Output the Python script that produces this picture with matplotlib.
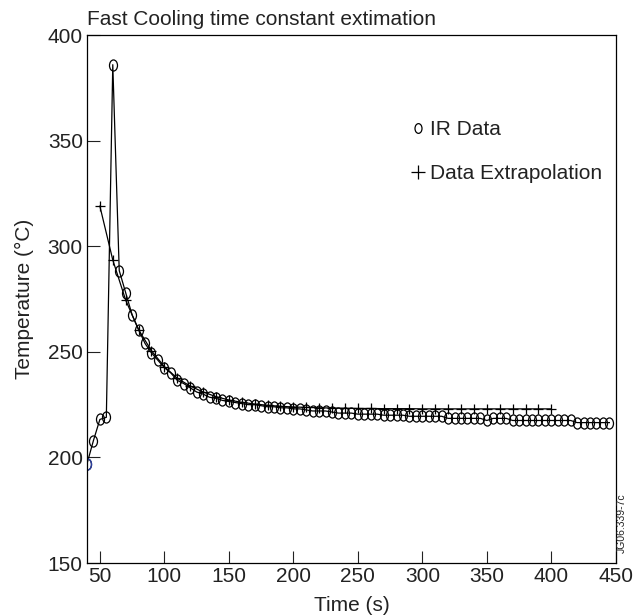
import matplotlib.pyplot as plt
import numpy as np
from matplotlib.path import Path
from matplotlib.transforms import Affine2D
from matplotlib.lines import Line2D

plt.rcParams['font.family'] = ['Liberation Sans', 'DejaVu Sans']

# IR data, one reading every 5 s
ir_time = list(range(40, 450, 5))
ir_temp = [197, 208, 218, 219, 386, 288.5, 278, 267.5, 260.5, 254,
           249.5, 246, 242.5, 240, 236.5, 235, 233, 231, 230, 228.5,
           228, 227, 226.5, 226, 225.5, 225, 225, 224.5, 224, 224,
           223.5, 223.5, 223, 223, 222.5, 222, 222, 222, 221.5, 221,
           221, 221, 220.5, 220.5, 220.5, 220.5, 220, 220, 220, 220,
           219.5, 219.5, 219.5, 219.5, 219.5, 219.5, 218.5, 218.5, 218.5, 218.5,
           218.5, 218.5, 217.5, 218.5, 218.5, 218.5, 217.5, 217.5, 217.5, 217.5,
           217.5, 217.5, 217.5, 217.5, 217.5, 217.5, 216.5, 216.5, 216.5, 216.5,
           216.5, 216.5]

# extrapolated fit, every 10 s
ext_time = list(range(50, 410, 10))
ext_temp = [319, 293.5, 274.5, 260.5, 250.5, 243, 237.5, 233.8, 231, 228.8,
            227.2, 226.1, 225.3, 224.7, 224.2, 223.9, 223.7, 223.5, 223.4, 223.3,
            223.2, 223.2, 223.1, 223.1, 223.1, 223, 223, 223, 223, 223,
            223, 223, 223, 223, 223, 223]

# slightly tall "O" shaped marker
oval = Path.unit_circle().transformed(Affine2D().scale(0.72, 1.0))

fig = plt.figure(figsize=(6.41, 6.16), dpi=100)
ax = fig.add_axes([0.1357, 0.086, 0.825, 0.857])

ax.plot(ext_time, ext_temp, color='black', lw=0.9, marker='+', ms=7, mew=0.9)
ax.plot(ir_time, ir_temp, color='black', lw=0.9, marker=oval, ms=8,
        mfc='none', mec='black', mew=0.9)
ax.plot(ir_time[:1], ir_temp[:1], ls='none', marker=oval, ms=8,
        mfc='none', mec='#2b3fa0', mew=1.0)

ax.set_xlim(40, 450)
ax.set_ylim(150, 400)
ax.set_xticks([50, 100, 150, 200, 250, 300, 350, 400, 450])
ax.set_yticks([150, 200, 250, 300, 350, 400])
ax.tick_params(direction='in', length=9, width=0.8, labelsize=15, pad=3,
               colors='#222222')
for s in ax.spines.values():
    s.set_linewidth(0.9)

ax.set_xlabel('Time (s)', fontsize=15, labelpad=7, color='#222222')
ax.set_ylabel('Temperature (°C)', fontsize=15, labelpad=10, color='#222222')
ax.set_title('Fast Cooling time constant extimation', fontsize=15,
             loc='left', pad=7, color='#222222')

handles = [Line2D([], [], ls='none', marker=oval, ms=7, mfc='none', mec='black', mew=0.9),
           Line2D([], [], ls='none', marker='+', ms=10, mec='black', mew=0.9)]
ax.legend(handles, ['IR Data', 'Data Extrapolation'], loc='upper left',
          bbox_to_anchor=(0.594, 0.858), frameon=False, fontsize=15,
          handlelength=0.6, handletextpad=0.3, labelspacing=1.2, borderpad=0,
          labelcolor='#222222')

fig.text(622 / 641, 63 / 616, 'JG06.339-7c', rotation=90, fontsize=7.5,
         ha='center', va='bottom', color='#222222')

fig.savefig('out.png', dpi=100)
